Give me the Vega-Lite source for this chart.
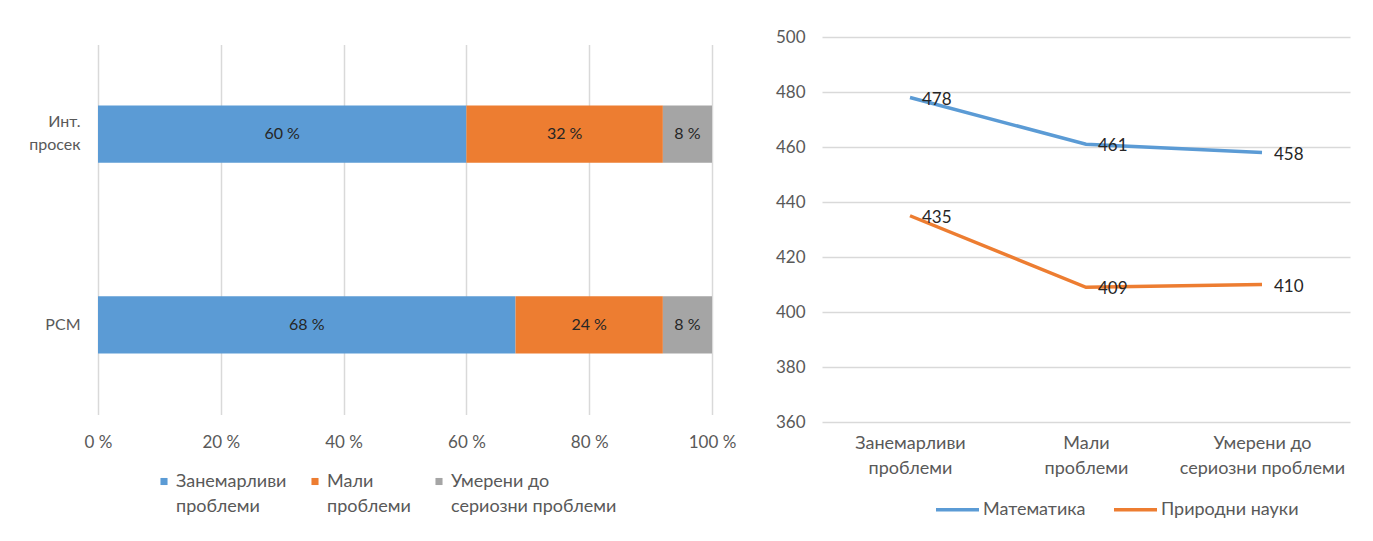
{
  "$schema": "https://vega.github.io/schema/vega-lite/v6.json",
  "background": "white",
  "padding": {"left": 28, "top": 28, "right": 5, "bottom": 5},
  "config": {
    "font": "Lato",
    "view": {"stroke": null},
    "axis": {"labelFont": "Lato", "labelFontSize": 17, "labelColor": "#595959", "domain": false, "ticks": false, "gridColor": "#d9d9d9", "title": null},
    "legend": {"labelFont": "Lato", "labelFontSize": 18, "labelColor": "#595959"}
  },
  "datasets": {
    "bars": [
      {"group": "Инт.\nпросек", "cat": "Занемарливи\nпроблеми", "ord": 1, "pct": 60},
      {"group": "Инт.\nпросек", "cat": "Мали\nпроблеми", "ord": 2, "pct": 32},
      {"group": "Инт.\nпросек", "cat": "Умерени до\nсериозни проблеми", "ord": 3, "pct": 8},
      {"group": "РСМ", "cat": "Занемарливи\nпроблеми", "ord": 1, "pct": 68},
      {"group": "РСМ", "cat": "Мали\nпроблеми", "ord": 2, "pct": 24},
      {"group": "РСМ", "cat": "Умерени до\nсериозни проблеми", "ord": 3, "pct": 8}
    ],
    "lines": [
      {"subj": "Математика", "cat": "Занемарливи\nпроблеми", "score": 478},
      {"subj": "Математика", "cat": "Мали\nпроблеми", "score": 461},
      {"subj": "Математика", "cat": "Умерени до\nсериозни проблеми", "score": 458},
      {"subj": "Природни науки", "cat": "Занемарливи\nпроблеми", "score": 435},
      {"subj": "Природни науки", "cat": "Мали\nпроблеми", "score": 409},
      {"subj": "Природни науки", "cat": "Умерени до\nсериозни проблеми", "score": 410}
    ]
  },
  "bounds": "flush",
  "center": true,
  "spacing": 110,
  "resolve": {"scale": {"color": "independent"}, "legend": {"color": "independent"}},
  "hconcat": [
    {
      "width": 614,
      "height": 370,
      "data": {"name": "bars"},
      "transform": [
        {"stack": "pct", "groupby": ["group"], "sort": [{"field": "ord", "order": "ascending"}], "as": ["x0", "x1"]}
      ],
      "encoding": {
        "y": {
          "field": "group", "type": "nominal", "sort": ["Инт.\nпросек", "РСМ"],
          "scale": {"paddingInner": 0.7, "paddingOuter": 0.32},
          "axis": {"labelExpr": "split(datum.label, '\\n')", "labelFontSize": 16, "labelPadding": 18, "grid": false, "labelLineHeight": 23,
            "labelOffset": {"condition": {"test": "datum.value == 'РСМ'", "value": 0}, "value": -12}}
        }
      },
      "layer": [
        {
          "mark": {"type": "bar"},
          "encoding": {
            "x": {"field": "x0", "type": "quantitative", "scale": {"domain": [0, 100]},
              "axis": {"values": [0, 20, 40, 60, 80, 100], "labelExpr": "datum.value + ' %'", "labelFlush": false, "labelPadding": 20, "grid": true, "gridWidth": 1.5}},
            "x2": {"field": "x1"},
            "color": {
              "field": "cat", "type": "nominal",
              "sort": ["Занемарливи\nпроблеми", "Мали\nпроблеми", "Умерени до\nсериозни проблеми"],
              "scale": {"range": ["#5b9bd5", "#ed7d31", "#a5a5a5"]},
              "legend": {"title": null, "orient": "none", "legendX": 57, "legendY": 428, "direction": "horizontal", "columns": 3,
                "symbolType": "square", "symbolSize": 50, "symbolStrokeWidth": 0, "columnPadding": 19, "labelOffset": 3,
                "labelFontSize": 18, "labelExpr": "split(datum.label, '\\n')", "labelBaseline": "middle", "labelLimit": 300,
                "encode": {"labels": {"update": {"lineHeight": {"value": 25}}}}}
            }
          }
        },
        {
          "transform": [{"fold": ["x0", "x1"], "as": ["k", "v"]}],
          "mark": {"type": "text", "fontSize": 16, "color": "#262626", "baseline": "middle", "align": "center", "text": {"expr": "datum.pct + ' %'"}},
          "encoding": {
            "x": {"aggregate": "mean", "field": "v", "type": "quantitative"},
            "detail": [{"field": "pct", "type": "quantitative"}, {"field": "cat", "type": "nominal"}]
          }
        }
      ]
    },
    {
      "width": 528,
      "height": 385,
      "data": {"name": "lines"},
      "encoding": {
        "x": {
          "field": "cat", "type": "nominal", "sort": ["Занемарливи\nпроблеми", "Мали\nпроблеми", "Умерени до\nсериозни проблеми"],
          "scale": {"type": "point", "padding": 0.5},
          "axis": {"labelExpr": "split(datum.label, '\\n')", "labelAngle": 0, "labelFontSize": 18, "labelPadding": 12, "labelLineHeight": 25, "grid": false, "labelLimit": 300}
        },
        "y": {
          "field": "score", "type": "quantitative", "scale": {"domain": [360, 500], "zero": false},
          "axis": {"values": [360, 380, 400, 420, 440, 460, 480, 500], "labelPadding": 17, "grid": true, "gridWidth": 1.5}
        }
      },
      "layer": [
        {
          "mark": {"type": "line", "strokeWidth": 3.5},
          "encoding": {
            "color": {
              "field": "subj", "type": "nominal", "sort": ["Математика", "Природни науки"],
              "scale": {"range": ["#5b9bd5", "#ed7d31"]},
              "legend": {"title": null, "orient": "none", "legendX": 112, "legendY": 449, "direction": "horizontal",
                "symbolType": "stroke", "symbolSize": 1850, "symbolStrokeWidth": 3.5, "columnPadding": 20, "labelOffset": 2, "labelFontSize": 18}
            }
          }
        },
        {
          "mark": {"type": "text", "fontSize": 17, "color": "#262626", "align": "left", "baseline": "middle", "dx": 12, "dy": 2},
          "encoding": {
            "text": {"field": "score", "type": "quantitative"}
          }
        }
      ]
    }
  ]
}
